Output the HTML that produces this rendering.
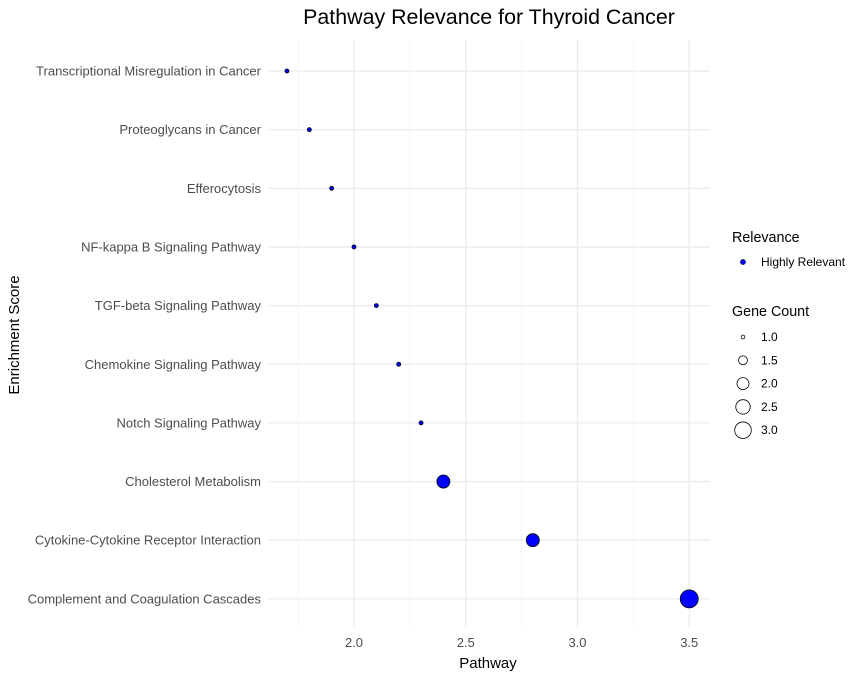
<!DOCTYPE html>
<html><head><meta charset="utf-8"><style>
body{margin:0;background:#fff;font-family:"Liberation Sans",sans-serif;}
svg text{font-family:"Liberation Sans",sans-serif;}
</style></head><body>
<svg id="chart" width="859" height="680" xmlns="http://www.w3.org/2000/svg">
<rect width="859" height="680" fill="#fff"/>
<text x="489" y="24" font-size="21.4" text-anchor="middle" fill="#000">Pathway Relevance for Thyroid Cancer</text>
<g id="grid"></g><g id="yticks"></g><g id="xticks"></g><g id="points"></g>
<text x="488" y="668" font-size="15" text-anchor="middle">Pathway</text>
<text transform="translate(19,335) rotate(-90)" font-size="15" text-anchor="middle">Enrichment Score</text>
<g>
<text x="732" y="242" font-size="14.3">Relevance</text>
<circle cx="743" cy="262" r="2.6" fill="#0000ff" stroke="#000" stroke-width="0.5"/>
<text x="761" y="266" font-size="12">Highly Relevant</text>
<text x="732" y="316" font-size="14.3">Gene Count</text>
<g id="sizeLegend"></g>
</g>
</svg>
<script>
const categories=["Transcriptional Misregulation in Cancer","Proteoglycans in Cancer","Efferocytosis","NF-kappa B Signaling Pathway","TGF-beta Signaling Pathway","Chemokine Signaling Pathway","Notch Signaling Pathway","Cholesterol Metabolism","Cytokine-Cytokine Receptor Interaction","Complement and Coagulation Cascades"];
const scores=[1.7,1.8,1.9,2.0,2.1,2.2,2.3,2.4,2.8,3.5];
const geneCounts=[1,1,1,1,1,1,1,2,2,3];
const xTicks=[2.0,2.5,3.0,3.5];
const xMinor=[1.75,2.25,2.75,3.25];
const sizeLegendValues=[1.0,1.5,2.0,2.5,3.0];
const NS="http://www.w3.org/2000/svg";
const L=268,R=710,T=40,B=628;
const xS=v=>354+(v-2.0)*223.5;
const yS=i=>71+i*58.65;
const rS=c=>Math.sqrt(4+(81-4)*(c-1)/2);
function mk(tag,attrs,parent){const e=document.createElementNS(NS,tag);for(const k in attrs)e.setAttribute(k,attrs[k]);parent.appendChild(e);return e;}
const grid=document.getElementById('grid');
xMinor.forEach(v=>{const l=mk('line',{x1:xS(v),x2:xS(v),y1:T,y2:B,stroke:'#f3f3f3','stroke-width':0.7},grid);

});
xTicks.forEach(v=>{const l=mk('line',{x1:xS(v),x2:xS(v),y1:T,y2:B,stroke:'#ebebeb','stroke-width':1.3},grid);

});
categories.forEach((c,i)=>{const l=mk('line',{x1:L,x2:R,y1:yS(i),y2:yS(i),stroke:'#ebebeb','stroke-width':1.3},grid);


const t=mk('text',{x:261,y:yS(i)+4.5,'font-size':13,'text-anchor':'end',fill:'#4d4d4d'},document.getElementById('yticks'));
t.textContent=c;

});
xTicks.forEach(v=>{const t=mk('text',{x:xS(v),y:647,'font-size':13,'text-anchor':'middle',fill:'#4d4d4d'},document.getElementById('xticks'));
t.textContent=v.toFixed(1);

});
categories.forEach((c,i)=>{const p=mk('circle',{cx:xS(scores[i]),cy:yS(i),r:rS(geneCounts[i]),fill:'#0000ff',stroke:'#000','stroke-width':0.8},document.getElementById('points'));

});
const sl=document.getElementById('sizeLegend');
sizeLegendValues.forEach((v,i)=>{const y=337+i*23.3;
const c=mk('circle',{cx:743,cy:y,r:rS(v)*0.92,fill:'none',stroke:'#000','stroke-width':0.8},sl);


const t=mk('text',{x:761,y:y+4,'font-size':12},sl);
t.textContent=v.toFixed(1);

});
</script>
</body></html>
